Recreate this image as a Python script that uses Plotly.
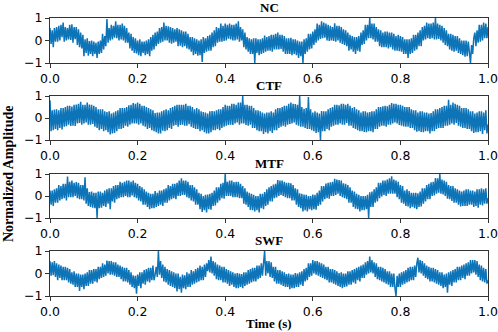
import numpy as np
import plotly.graph_objects as go

titles = ["NC", "CTF", "MTF", "SWF"]
x_ticks = [0.0, 0.2, 0.4, 0.6, 0.8, 1.0]
y_ticks = [-1, 0, 1]

nc = [
    0.55, -0.15, 0.45, -0.3, 0.55, -0.05, 0.6, -0.05, 0.65, 0.0, 0.7, 0.15, 0.8, -0.05, 0.6, 0.0, 0.55, 0.05, 0.7, 0.03,
    0.72, -0.1, 0.6, 0.06, 0.6, -0.2, 0.5, -0.3, 0.35, -0.35, 0.25, -0.7, 0.05, -0.55, 0.1, -0.68, -0.02, -0.6, 0.0, -0.7,
    -0.05, -0.6, -0.1, -0.78, -0.05, -0.6, 0.0, -0.55, 0.3, -0.4, 0.2, -0.25, 0.95, -0.1, 0.55, 0.0, 0.7, 0.05, 0.65, 0.13,
    0.85, 0.1, 0.7, 0.0, 0.7, 0.05, 0.75, 0.0, 0.65, -0.1, 0.55, -0.1, 0.35, -0.35, 0.3, -0.45, 0.15, -0.55, 0.1, -0.58,
    0.0, -0.65, 0.05, -0.7, -0.05, -0.55, -0.05, -0.65, 0.0, -0.6, 0.05, -0.7, 0.15, -0.45, 0.25, -0.4, 0.35, -0.25, 0.4, -0.15,
    0.55, -0.1, 0.6, -0.05, 0.8, 0.0, 0.65, 0.0, 0.63, -0.1, 0.6, -0.14, 0.55, -0.1, 0.5, -0.05, 0.55, -0.25, 0.5, -0.23,
    0.45, -0.3, 0.4, -0.25, 0.4, -0.35, 0.3, -0.4, 0.15, -0.5, 0.15, -0.65, 0.1, -0.6, 0.05, -0.68, 0.0, -0.65, 0.05, -0.95,
    0.15, -0.55, 0.1, -0.5, 0.2, -0.45, 0.25, -0.45, 0.35, -0.3, 0.45, -0.25, 0.6, -0.1, 0.55, -0.05, 0.75, -0.05, 0.65, -0.02,
    0.75, 0.0, 0.7, 0.08, 0.75, 0.05, 0.7, 0.0, 0.7, 0.0, 0.75, 0.05, 0.85, -0.05, 0.6, 0.0, 0.5, -0.3, 0.35, -0.4,
    0.15, -0.5, 0.1, -0.6, 0.05, -0.6, 0.1, -1.0, 0.1, -0.55, 0.05, -0.65, 0.05, -0.6, 0.1, -0.55, 0.22, -0.5, 0.15, -0.45,
    0.2, -0.45, 0.25, -0.5, 0.25, -0.4, 0.3, -0.4, 0.35, -0.4, 0.25, -0.38, 0.25, -0.5, 0.2, -0.6, 0.1, -0.6, 0.1, -0.6,
    0.12, -0.65, 0.05, -0.6, 0.05, -0.65, 0.0, -0.77, -0.05, -0.7, -0.05, -1.0, 0.05, -0.6, 0.1, -0.5, 0.3, -0.4, 0.3, -0.35,
    0.4, -0.2, 0.5, -0.1, 0.75, 0.0, 0.7, 0.07, 0.85, 0.1, 0.8, 0.12, 0.75, 0.0, 0.7, -0.02, 0.65, 0.0, 0.6, -0.02,
    0.77, -0.05, 0.65, 0.0, 0.65, -0.1, 0.6, -0.15, 0.5, -0.2, 0.45, -0.25, 0.35, -0.45, 0.25, -0.4, 0.2, -0.5, 0.15, -0.6,
    0.15, -0.45, 0.2, -0.5, 0.35, -0.2, 0.45, -0.15, 0.7, 0.0, 0.7, 0.1, 1.0, 0.1, 0.75, 0.05, 0.75, -0.05, 0.6, -0.05,
    0.5, -0.25, 0.45, -0.3, 0.35, -0.3, 0.4, -0.3, 0.4, -0.35, 0.35, -0.3, 0.35, -0.4, 0.3, -0.45, 0.2, -0.45, 0.25, -0.47,
    0.2, -0.5, 0.15, -0.6, 0.05, -0.6, 0.05, -0.78, 0.05, -0.6, 0.1, -0.55, 0.25, -0.45, 0.25, -0.4, 0.35, -0.25, 0.45, -0.25,
    0.6, 0.0, 0.65, 0.05, 0.8, 0.1, 0.75, 0.07, 0.75, 0.1, 0.8, 0.05, 1.0, 0.05, 0.75, 0.07, 0.7, 0.0, 0.65, -0.1,
    0.55, -0.2, 0.45, -0.25, 0.3, -0.4, 0.3, -0.45, 0.25, -0.5, 0.2, -0.45, 0.2, -0.55, 0.1, -0.6, 0.0, -0.65, 0.0, -0.72,
    0.0, -0.7, -0.05, -0.65, -1.0, -0.2, -0.6, 0.1, 0.35, -0.25, 0.45, -0.1, 0.7, -0.05, 0.7, 0.0, 0.8, 0.1, 0.75, 0.1,
    0.6,
]

ctf = [
    0.8, -0.6, 0.35, -0.55, 0.38, -0.5, 0.4, -0.55, 0.35, -0.45, 0.45, -0.52, 0.45, -0.4, 0.5, -0.37, 0.56, -0.3, 0.55, -0.36,
    0.52, -0.35, 0.6, -0.36, 0.61, -0.25, 0.65, -0.22, 0.74, -0.3, 0.6, -0.25, 0.6, -0.2, 0.7, -0.31, 0.61, -0.3, 0.6, -0.27,
    0.55, -0.4, 0.5, -0.45, 0.4, -0.55, 0.4, -0.5, 0.4, -0.6, 0.3, -0.55, 0.27, -0.65, 0.3, -0.75, 0.2, -0.7, 0.25, -0.68,
    0.3, -0.6, 0.35, -0.5, 0.45, -0.5, 0.45, -0.45, 0.45, -0.35, 0.5, -0.4, 0.58, -0.3, 0.6, -0.25, 0.68, -0.25, 0.65, -0.25,
    0.7, -0.3, 0.65, -0.25, 0.55, -0.35, 0.55, -0.4, 0.5, -0.5, 0.45, -0.45, 0.4, -0.55, 0.35, -0.6, 0.22, -0.65, 0.25, -0.7,
    0.25, -0.7, 0.3, -0.58, 0.35, -0.6, 0.4, -0.55, 0.35, -0.45, 0.45, -0.5, 0.5, -0.35, 0.55, -0.32, 0.6, -0.4, 0.6, -0.32,
    0.6, -0.3, 0.6, -0.35, 0.65, -0.35, 0.55, -0.28, 0.55, -0.4, 0.5, -0.45, 0.4, -0.5, 0.45, -0.5, 0.4, -0.6, 0.3, -0.55,
    0.27, -0.65, 0.25, -0.7, 0.2, -0.7, 0.3, -0.65, 0.32, -0.55, 0.3, -0.55, 0.35, -0.5, 0.4, -0.55, 0.4, -0.45, 0.5, -0.4,
    0.6, -0.35, 0.55, -0.32, 0.55, -0.3, 0.65, -0.32, 0.65, -0.25, 0.6, -0.2, 0.7, -0.3, 0.7, -0.25, 1.0, -0.25, 0.6, -0.32,
    0.6, -0.35, 0.55, -0.3, 0.55, -0.45, 0.45, -0.45, 0.35, -0.55, 0.35, -0.6, 0.3, -0.6, 0.25, -0.73, 0.2, -0.65, 0.25, -0.7,
    0.25, -0.6, 0.3, -0.68, 0.25, -0.55, 0.4, -0.55, 0.45, -0.45, 0.45, -0.4, 0.5, -0.35, 0.55, -0.4, 0.55, -0.3, 0.65, -0.27,
    0.7, -0.25, 0.65, -0.2, 0.63, -0.3, 0.6, -0.35, 1.0, -0.4, 0.5, -0.4, 0.42, -0.45, 0.45, -0.5, 0.95, -0.5, 0.4, -0.55,
    0.25, -0.6, 0.3, -0.68, 0.25, -0.65, 0.2, -1.0, 0.32, -0.6, 0.3, -0.6, 0.3, -0.5, 0.4, -0.55, 0.45, -0.4, 0.5, -0.35,
    0.6, -0.3, 0.6, -0.3, 0.58, -0.25, 0.65, -0.3, 0.65, -0.3, 0.6, -0.22, 0.65, -0.35, 0.55, -0.35, 0.45, -0.45, 0.5, -0.5,
    0.4, -0.55, 0.35, -0.6, 0.25, -0.6, 0.3, -0.63, 0.3, -0.65, 0.25, -0.6, 0.27, -0.6, 0.3, -0.65, 0.3, -0.5, 0.4, -0.5,
    0.5, -0.4, 0.5, -0.35, 0.53, -0.35, 0.55, -0.4, 0.53, -0.3, 0.6, -0.3, 0.68, -0.25, 0.65, -0.2, 0.65, -0.25, 0.6, -0.32,
    0.6, -0.35, 0.55, -0.38, 0.5, -0.4, 0.5, -0.4, 0.5, -0.45, 0.4, -0.45, 0.35, -0.55, 0.35, -0.62, 0.25, -0.6, 0.3, -0.63,
    0.3, -0.65, 0.25, -0.6, 0.25, -0.6, 0.2, -0.7, 0.22, -0.6, 0.3, -0.6, 0.4, -0.5, 0.4, -0.45, 0.45, -0.45, 0.5, -0.45,
    0.55, -0.35, 0.55, -0.35, 0.83, -0.3, 0.6, -0.25, 0.7, -0.3, 0.65, -0.22, 0.6, -0.35, 0.55, -0.4, 0.45, -0.45, 0.45, -0.45,
    0.45, -0.5, 0.4, -0.5, 0.3, -0.6, 0.3, -0.68, 0.2, -0.65, 0.25, -0.65, 0.3, -0.6, 0.3, -0.73, 0.25, -0.55, 0.35, -0.7,
    -0.3,
]

mtf = [
    0.25, -0.4, 0.25, -0.45, 0.3, -0.3, 0.35, -0.3, 0.5, -0.2, 0.45, -0.15, 0.55, -0.1, 0.55, -0.2, 0.88, -0.05, 0.65, -0.05,
    0.7, -0.05, 0.6, 0.0, 0.63, -0.1, 0.6, -0.15, 0.5, -0.15, 0.5, -0.2, 0.85, -0.35, 0.35, -0.45, 0.18, -0.5, 0.2, -0.53,
    0.15, -0.55, 0.15, -1.0, 0.2, -0.55, 0.2, -0.53, 0.15, -0.45, 0.25, -0.5, 0.3, -0.35, 0.35, -0.6, 0.35, -0.25, 0.45, -0.3,
    0.5, -0.15, 0.5, -0.1, 0.65, -0.05, 0.6, -0.05, 0.65, 0.0, 0.7, -0.05, 0.7, -0.05, 0.65, 0.02, 0.7, -0.05, 0.6, -0.1,
    0.55, -0.2, 0.45, -0.25, 0.4, -0.4, 0.3, -0.4, 0.2, -0.5, 0.15, -0.6, 0.1, -0.55, 0.1, -0.55, 0.22, -0.5, 0.15, -0.45,
    0.25, -0.4, 0.25, -0.45, 0.3, -0.3, 0.35, -0.3, 0.5, -0.2, 0.45, -0.15, 0.55, -0.1, 0.55, -0.15, 0.6, 0.0, 0.7, 0.0,
    0.8, 0.05, 0.7, 0.05, 0.7, -0.05, 0.65, -0.1, 0.5, -0.2, 0.5, -0.25, 0.4, -0.4, 0.3, -0.4, 0.15, -0.6, 0.1, -0.73,
    0.0, -0.65, 0.05, -0.75, 0.07, -0.6, 0.1, -0.62, 0.15, -0.45, 0.25, -0.43, 0.4, -0.3, 0.4, -0.2, 0.55, -0.1, 0.6, -0.12,
    1.0, 0.0, 0.65, 0.0, 0.7, 0.0, 0.7, -0.05, 0.63, -0.05, 0.65, -0.05, 0.65, -0.1, 0.55, -0.1, 0.45, -0.35, 0.35, -0.4,
    0.2, -0.5, 0.15, -0.63, 0.1, -0.65, 0.05, -0.7, 0.0, -0.65, 0.0, -0.75, 0.1, -0.55, 0.1, -0.6, 0.18, -0.45, 0.3, -0.4,
    0.4, -0.25, 0.45, -0.25, 0.52, -0.1, 0.55, -0.07, 0.72, 0.0, 0.7, 0.05, 0.7, 0.0, 0.65, -0.05, 0.6, -0.1, 0.6, -0.1,
    0.58, -0.2, 0.5, -0.2, 0.35, -0.4, 0.3, -0.5, 0.12, -0.55, 0.1, -0.7, 0.07, -0.65, 0.05, -0.7, 0.0, -0.6, 0.0, -0.65,
    0.07, -0.6, 0.05, -0.62, 0.15, -0.45, 0.25, -0.4, 0.45, -0.25, 0.45, -0.15, 0.57, -0.1, 0.6, -0.12, 0.62, 0.0, 0.65, 0.0,
    0.78, 0.05, 0.75, 0.1, 0.73, 0.0, 0.7, -0.05, 0.58, -0.1, 0.55, -0.15, 0.5, -0.3, 0.4, -0.3, 0.25, -0.5, 0.2, -0.58,
    0.1, -0.6, 0.05, -0.7, 0.0, -0.65, 0.0, -0.65, 0.0, -0.6, 0.05, -1.0, 0.17, -0.5, 0.2, -0.5, 0.3, -0.3, 0.4, -0.25,
    0.6, -0.1, 0.6, -0.02, 0.7, 0.05, 0.7, 0.0, 0.75, 0.1, 0.8, 0.1, 0.9, 0.1, 0.75, 0.1, 0.7, -0.05, 0.65, -0.15,
    0.5, -0.3, 0.45, -0.35, 0.25, -0.45, 0.3, -0.47, 0.22, -0.55, 0.15, -0.5, 0.15, -0.55, 0.15, -0.6, 0.12, -0.5, 0.2, -0.47,
    0.35, -0.35, 0.35, -0.25, 0.5, -0.15, 0.55, -0.15, 0.62, 0.0, 0.65, 0.03, 0.82, 0.1, 0.8, 0.15, 1.0, 0.1, 0.75, 0.07,
    0.7, 0.0, 0.65, -0.12, 0.5, -0.15, 0.45, -0.23, 0.45, -0.3, 0.35, -0.3, 0.3, -0.4, 0.25, -0.48, 0.2, -0.45, 0.25, -0.45,
    0.3, -0.45, 0.3, -0.4, 0.25, -0.4, 0.25, -0.5, 0.2, -0.45, 0.3, -0.53, 0.3, -0.4, 0.35, -0.43, 0.3, -0.35, 0.35, -0.35,
    -0.1,
]

swf = [
    0.55, -0.1, 0.5, -0.08, 0.55, -0.15, 0.45, -0.3, 0.4, -0.2, 0.35, -0.3, 0.3, -0.3, 0.3, -0.3, 0.25, -0.4, 0.2, -0.45,
    0.05, -0.5, 0.1, -0.6, 0.0, -0.6, 0.0, -0.78, -0.05, -0.6, -0.05, -0.7, 0.0, -0.55, 0.05, -0.55, 0.15, -0.45, 0.15, -0.45,
    0.2, -0.35, 0.2, -0.4, 0.3, -0.25, 0.3, -0.2, 0.45, -0.15, 0.4, -0.1, 0.58, 0.0, 0.55, -0.05, 0.55, -0.05, 0.5, -0.1,
    0.5, -0.15, 0.4, -0.15, 0.35, -0.25, 0.3, -0.35, 0.25, -0.35, 0.25, -0.4, 0.15, -0.5, 0.05, -0.6, -0.08, -0.65, -0.1, -0.9,
    -0.05, -0.55, 0.05, -0.65, 0.05, -0.45, 0.15, -0.5, 0.2, -0.35, 0.25, -0.4, 0.25, -0.3, 0.35, -0.3, -0.05, 0.3, -0.15, 1.0,
    -0.05, 0.55, -0.2, 0.4, -0.35, 0.3, -0.4, 0.2, -0.5, 0.15, -0.55, 0.1, -0.6, 0.05, -0.65, 0.0, -0.8, 0.0, -0.7, -0.15,
    -0.85, -0.05, -0.65, -0.08, -0.7, 0.05, -0.6, 0.0, -0.6, 0.15, -0.5, 0.1, -0.45, 0.2, -0.4, 0.25, -0.35, 0.35, -0.3, 0.3,
    -0.3, 0.4, -0.15, 0.45, 0.1, 0.6, 0.05, 0.75, 0.0, 0.55, -0.1, 0.5, -0.25, 0.4, -0.3, 0.35, -0.3, 0.3, -0.4, 0.3,
    -0.4, 0.2, -0.45, 0.15, -0.55, 0.1, -0.5, 0.05, -0.6, 0.0, -0.65, 0.02, -0.65, 0.0, -0.6, -0.03, -0.65, 0.05, -0.55, 0.05,
    -0.5, 0.15, -0.45, 0.2, -0.4, 0.25, -0.35, 0.25, -0.35, 0.35, -0.25, 0.35, -0.2, 0.45, -0.1, 0.5, 1.0, -0.1, 0.55, 0.0,
    0.55, -0.15, 0.5, -0.2, 0.3, -0.35, 0.3, -0.45, 0.15, -0.45, 0.15, -0.5, 0.1, -0.55, 0.05, -0.6, -0.02, -0.6, 0.0, -0.7,
    -0.05, -0.65, -0.05, -0.65, 0.02, -0.6, 0.0, -0.6, 0.05, -0.5, 0.1, -0.55, 0.2, -0.35, 0.25, -0.3, 0.45, -0.15, 0.45, -0.1,
    0.6, 0.0, 0.55, -0.05, 0.55, -0.1, 0.5, -0.15, 0.45, -0.2, 0.4, -0.25, 0.3, -0.3, 0.3, -0.4, 0.2, -0.4, 0.2, -0.45,
    0.15, -0.5, 0.1, -0.55, 0.02, -0.6, 0.05, -0.65, 0.0, -0.6, 0.0, -0.58, 0.1, -0.5, 0.1, -0.5, 0.15, -0.4, 0.2, -0.45,
    0.25, -0.3, 0.3, -0.35, 0.35, -0.2, 0.4, -0.2, 0.5, -0.05, 0.55, 0.0, 0.75, 0.05, 0.6, 0.0, 0.5, -0.15, 0.45, -0.25,
    0.3, -0.3, 0.3, -0.35, 0.25, -0.4, 0.2, -0.45, 0.1, -0.5, 0.1, -0.6, 0.0, -0.6, 0.0, -0.65, -1.0, -0.1, -0.6, 0.0,
    -0.6, 0.05, -0.5, 0.1, -0.45, 0.15, -0.4, 0.25, -0.35, 0.3, -0.3, 0.3, -0.3, 0.35, -0.15, 0.45, 0.7, 0.05, 0.6, 0.0,
    0.55, -0.1, 0.45, -0.2, 0.35, -0.25, 0.3, -0.35, 0.25, -0.35, 0.25, -0.4, 0.2, -0.45, 0.15, -0.5, 0.05, -0.55, 0.05, -0.65,
    -0.05, -0.6, 0.0, -0.85, 0.05, -0.5, 0.1, -0.55, 0.15, -0.4, 0.2, -0.4, 0.3, -0.3, 0.3, -0.3, 0.35, -0.2, 0.4, -0.25,
    0.45, -0.1, 0.5, -0.1, 0.6, 0.0, 0.6, 0.05, 0.6, -0.05, 0.55, -0.15, 0.4, -0.3, 0.35, -0.35, 0.25, -0.4, 0.2, -0.45,
    -0.3,
]

series = [nc, ctf, mtf, swf]

W, H = 498, 332
x_left, x_right = 50, 488
panel_px = [(18, 63), (96, 140), (174, 218), (251, 296)]
color = "#0e74b8"

fig = go.Figure()
annotations = []
for i, (vals, (top, bot)) in enumerate(zip(series, panel_px)):
    n = len(vals)
    t = np.linspace(0.0, 1.0, n)
    xa = "x" if i == 0 else f"x{i+1}"
    ya = "y" if i == 0 else f"y{i+1}"
    fig.add_trace(go.Scatter(x=t, y=vals, mode="lines", xaxis=xa, yaxis=ya,
                             line=dict(color=color, width=1.5), showlegend=False,
                             hoverinfo="skip"))
    suffix = "" if i == 0 else str(i + 1)
    axis_common = dict(showgrid=False, zeroline=False, showline=True, mirror=True,
                       linecolor="#333", linewidth=1, ticks="outside", ticklen=4,
                       tickcolor="#333", automargin=False,
                       tickfont=dict(family="DejaVu Sans", size=12.5, color="black"))
    fig.layout["xaxis" + suffix] = dict(
        domain=[x_left / W, x_right / W], range=[0, 1], tickvals=x_ticks,
        ticktext=[f"{v:.1f}" for v in x_ticks], anchor=ya,
        ticklabeloverflow="allow", **axis_common)
    fig.layout["yaxis" + suffix] = dict(
        domain=[1 - bot / H, 1 - top / H], range=[-1, 1], tickvals=y_ticks,
        ticktext=["\u22121", "0", "1"], anchor=xa,
        ticklabeloverflow="allow", **axis_common)
    annotations.append(dict(text=f"<b>{titles[i]}</b>", x=(x_left + x_right) / 2 / W,
                            y=1 - (top - 11) / H, xref="paper", yref="paper",
                            xanchor="center", yanchor="middle", showarrow=False,
                            font=dict(family="Liberation Serif", size=13, color="black")))

annotations.append(dict(text="<b>Time (s)</b>", x=(x_left + x_right) / 2 / W, y=1 - 323 / H,
                        xref="paper", yref="paper", xanchor="center", yanchor="middle",
                        showarrow=False,
                        font=dict(family="Liberation Serif", size=13, color="black")))
annotations.append(dict(text="<b>Normalized Amplitude</b>", x=8 / W, y=1 - 174 / H,
                        xref="paper", yref="paper", xanchor="center", yanchor="middle",
                        textangle=-90, showarrow=False,
                        font=dict(family="Liberation Serif", size=14, color="black")))

fig.update_layout(width=W, height=H, margin=dict(l=0, r=0, t=0, b=0),
                  paper_bgcolor="white", plot_bgcolor="white",
                  hovermode=False, annotations=annotations)
fig.write_html("out.html", config={"displayModeBar": False, "staticPlot": True},
               post_script="document.body.style.margin='0px';document.body.style.padding='0px';")
